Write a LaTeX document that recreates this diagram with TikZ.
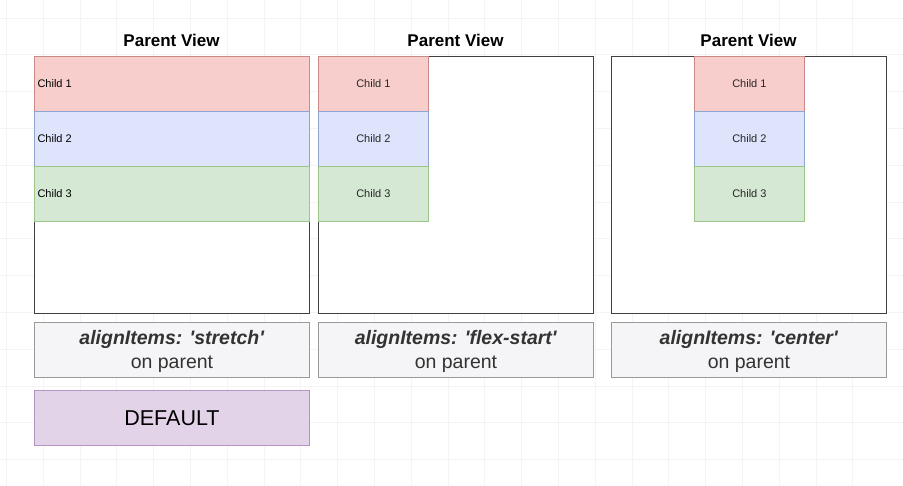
\documentclass[tikz,border=0pt]{standalone}
\usepackage{fontspec}
\setmainfont{Liberation Sans}
\newcommand{\sq}{\textquotesingle}
\begin{document}
\begin{tikzpicture}[x=1pt,y=-1pt,
  parent/.style={draw=black!75,line width=0.9pt,fill=white,minimum width=275pt,minimum height=257pt,anchor=north west,inner sep=0pt},
  title/.style={font=\fontsize{17}{20}\selectfont\bfseries},
  childbase/.style={line width=0.8pt,minimum height=55pt,anchor=north west,inner sep=0pt,font=\fontsize{11}{13}\selectfont,text=black!85},
  cone/.style={childbase,fill=red1,draw=red2},
  ctwo/.style={childbase,fill=blue1,draw=blue2},
  cthree/.style={childbase,fill=green1,draw=green2},
  caption/.style={draw=black!40,line width=0.9pt,fill=gray1,minimum width=275pt,minimum height=55pt,anchor=north west,inner sep=0pt},
  captext/.style={align=center,font=\fontsize{19.5}{24}\selectfont,text=black!80,yshift=-2pt},
  defbox/.style={draw=purple2,line width=0.9pt,fill=purple1,minimum width=275pt,minimum height=55pt,anchor=north west,inner sep=0pt,font=\fontsize{21.5}{24}\selectfont}
]
\definecolor{red1}{HTML}{F8CECC}\definecolor{red2}{HTML}{C98A86}
\definecolor{blue1}{HTML}{DDE4FB}\definecolor{blue2}{HTML}{8FA4CF}
\definecolor{green1}{HTML}{D5E8D4}\definecolor{green2}{HTML}{9CC58A}
\definecolor{gray1}{HTML}{F5F4F6}
\definecolor{purple1}{HTML}{E2D3E8}\definecolor{purple2}{HTML}{B494C2}
\definecolor{gridc}{HTML}{F4F4F6}

% canvas and background grid
\fill[white] (0,0) rectangle (903,486);
\useasboundingbox (0,0) rectangle (903,486);
\foreach \i in {0,...,23} \draw[gridc,line width=0.6pt] ({6.2+36.8*\i},0) -- ({6.2+36.8*\i},486);
\foreach \j in {0,...,13} \draw[gridc,line width=0.6pt] (0,{18+36.8*\j}) -- (903,{18+36.8*\j});

% panel 1: stretch
\node[title] (t1) at (171.5,40) {Parent View};
\node[parent] (p1) at (34,56) {};
\node[cone,minimum width=275pt] (a1) at (34,56) {};
\node[anchor=west,font=\fontsize{11}{13}\selectfont] (a1l) at (34,84) {Child 1};
\node[ctwo,minimum width=275pt] (a2) at (34,111) {};
\node[anchor=west,font=\fontsize{11}{13}\selectfont] (a2l) at (34,139) {Child 2};
\node[cthree,minimum width=275pt] (a3) at (34,166) {};
\node[anchor=west,font=\fontsize{11}{13}\selectfont] (a3l) at (34,194) {Child 3};

% panel 2: flex-start
\node[title] (t2) at (455.5,40) {Parent View};
\node[parent] (p2) at (318,56) {};
\node[cone,minimum width=110pt] (b1) at (318,56) {Child 1};
\node[ctwo,minimum width=110pt] (b2) at (318,111) {Child 2};
\node[cthree,minimum width=110pt] (b3) at (318,166) {Child 3};

% panel 3: center
\node[title] (t3) at (748.5,40) {Parent View};
\node[parent] (p3) at (611,56) {};
\node[cone,minimum width=110pt] (c1) at (694,56) {Child 1};
\node[ctwo,minimum width=110pt] (c2) at (694,111) {Child 2};
\node[cthree,minimum width=110pt] (c3) at (694,166) {Child 3};

% captions
\node[caption] (k1) at (34,322) {};
\node[captext] (k1t) at (k1.center) {\textbf{\textit{alignItems: \sq stretch\sq}}\\on parent};
\node[caption] (k2) at (318,322) {};
\node[captext] (k2t) at (k2.center) {\textbf{\textit{alignItems: \sq flex-start\sq}}\\on parent};
\node[caption] (k3) at (611,322) {};
\node[captext] (k3t) at (k3.center) {\textbf{\textit{alignItems: \sq center\sq}}\\on parent};

\node[defbox] (def) at (34,390) {DEFAULT};
\end{tikzpicture}
\end{document}
